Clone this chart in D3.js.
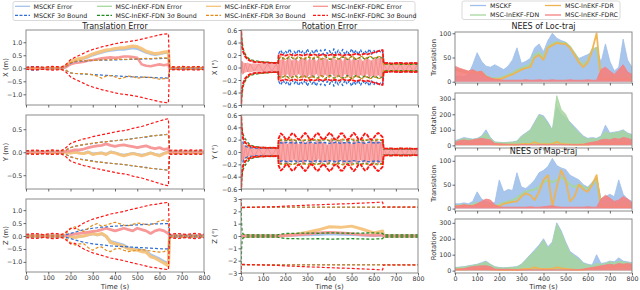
<!DOCTYPE html>
<html><head><meta charset="utf-8">
<script src="https://cdn.jsdelivr.net/npm/d3@7/dist/d3.min.js"></script>
<style>
html,body{margin:0;padding:0;background:#fff;}
svg{display:block;font-family:"DejaVu Sans",sans-serif;}
</style></head><body>
<svg id="chart" width="640" height="290"></svg>
<script>
// ================= DATA =================
const xTickVals=[0,100,200,300,400,500,600,700,800];
const methods=["MSCKF","MSC-InEKF-FDN","MSC-InEKF-FDR","MSC-InEKF-FDRC"];

// ---- Translation error (left column), time grid ----
const tL=[0,20,40,60,80,100,120,140,160,180,200,220,240,260,280,300,320,340,360,380,400,420,440,460,480,500,520,540,560,580,600,620,640,645,660,680,700,720,740,760,780,800];
// X
const trX_redB=[0.04,0.05,0.06,0.05,0.04,0.06,0.07,0.06,0.05,0.15,0.33,0.42,0.5,0.58,0.66,0.72,0.77,0.82,0.86,0.9,0.94,0.98,1.0,1.02,1.05,1.08,1.12,1.16,1.2,1.24,1.28,1.31,1.33,0.05,0.06,0.05,0.07,0.06,0.05,0.07,0.06,0.05];
const trX_blueBup=[0.03,0.06,0.07,0.05,0.03,0.03,0.03,0.03,0.03,0.08,0.2,0.25,0.27,0.28,0.29,0.3,0.3,0.31,0.31,0.32,0.32,0.33,0.33,0.34,0.34,0.35,0.35,0.36,0.36,0.37,0.37,0.38,0.38,0.03,0.03,0.03,0.03,0.03,0.03,0.03,0.03,0.03];
const trX_blueBlo=[-0.03,-0.06,-0.07,-0.05,-0.03,-0.03,-0.03,-0.03,-0.03,-0.08,-0.18,-0.2,-0.21,-0.22,-0.23,-0.24,-0.25,-0.26,-0.27,-0.28,-0.29,-0.3,-0.31,-0.32,-0.33,-0.33,-0.34,-0.35,-0.35,-0.36,-0.37,-0.37,-0.38,-0.03,-0.03,-0.03,-0.03,-0.03,-0.03,-0.03,-0.03,-0.03];
const trX_orngBup=[0.03,0.03,0.03,0.03,0.03,0.03,0.03,0.03,0.03,0.08,0.22,0.27,0.3,0.28,0.3,0.31,0.3,0.32,0.33,0.32,0.34,0.35,0.34,0.35,0.36,0.35,0.37,0.38,0.37,0.38,0.4,0.4,0.39,0.03,0.03,0.03,0.03,0.03,0.03,0.03,0.03,0.03];
const trX_orngBlo=[-0.03,-0.03,-0.03,-0.03,-0.03,-0.03,-0.03,-0.03,-0.03,-0.08,-0.18,-0.2,-0.2,-0.21,-0.22,-0.25,-0.3,-0.38,-0.3,-0.28,-0.33,-0.4,-0.36,-0.3,-0.32,-0.38,-0.35,-0.33,-0.36,-0.38,-0.42,-0.4,-0.38,-0.03,-0.03,-0.03,-0.03,-0.03,-0.03,-0.03,-0.03,-0.03];
const trX_blueE=[0,0.02,-0.02,0,0,0,0,0,0,0.05,0.2,0.3,0.35,0.37,0.43,0.5,0.55,0.6,0.65,0.68,0.7,0.72,0.72,0.75,0.78,0.75,0.68,0.6,0.55,0.52,0.55,0.58,0.6,0,0,0,0,0,0,0,0,0];
const trX_orngE=[0,0,0,0,0,0,0,0,0,0.08,0.25,0.33,0.37,0.4,0.47,0.55,0.6,0.65,0.7,0.72,0.76,0.78,0.78,0.82,0.85,0.83,0.75,0.65,0.6,0.56,0.58,0.62,0.64,0,0,0,0,0,0,0,0,0];
const trX_redE=[0,0,0,0,0,0,0,0,0,0.05,0.15,0.2,0.22,0.25,0.3,0.32,0.35,0.38,0.4,0.42,0.4,0.42,0.45,0.45,0.43,0.4,0.15,0.1,0.08,0.12,0.15,0.12,0.15,0,0,0,0,0,0,0,0,0];
// Y
const trY_redB=[0.03,0.04,0.05,0.04,0.03,0.04,0.05,0.04,0.04,0.1,0.19,0.23,0.26,0.29,0.31,0.34,0.36,0.38,0.4,0.42,0.44,0.46,0.47,0.49,0.52,0.54,0.56,0.59,0.62,0.65,0.68,0.71,0.73,0.04,0.05,0.04,0.05,0.04,0.05,0.04,0.05,0.04];
const trY_orngB=[0.03,0.03,0.03,0.03,0.03,0.03,0.03,0.03,0.03,0.05,0.1,0.13,0.15,0.17,0.18,0.2,0.21,0.22,0.23,0.24,0.25,0.26,0.27,0.28,0.29,0.31,0.32,0.34,0.35,0.36,0.37,0.38,0.39,0.03,0.03,0.03,0.03,0.03,0.03,0.03,0.03,0.03];
const trY_blueB=[0.03,0.03,0.03,0.03,0.03,0.03,0.03,0.03,0.03,0.05,0.1,0.13,0.15,0.16,0.18,0.19,0.21,0.22,0.23,0.24,0.25,0.26,0.27,0.28,0.3,0.31,0.32,0.33,0.35,0.36,0.37,0.38,0.39,0.03,0.03,0.03,0.03,0.03,0.03,0.03,0.03,0.03];
const trY_redE=[0,0,0,0,0,0,0,0,0,0.02,0.03,0.05,0.05,0.07,0.1,0.12,0.14,0.15,0.18,0.15,0.13,0.15,0.16,0.14,0.12,0.1,0.12,0.14,0.1,0.08,0.1,0.06,0.08,0,0,0,0,0,0,0,0,0];
const trY_orngE=[0,0,0,0,0,0,0,0,0,0,-0.02,0,-0.02,-0.03,0,-0.05,-0.03,-0.02,-0.05,0,-0.02,-0.05,-0.08,-0.05,-0.03,-0.05,-0.08,-0.05,-0.02,-0.05,-0.08,-0.03,0,0,0,0,0,0,0,0,0,0];
const trY_blueE=[0,0,0,0,0,0,0,0,0,0,-0.01,0.01,-0.01,-0.02,0.01,-0.03,-0.02,-0.01,-0.04,0.01,-0.01,-0.04,-0.06,-0.04,-0.02,-0.04,-0.06,-0.04,-0.01,-0.04,-0.06,-0.02,0.01,0,0,0,0,0,0,0,0,0];
// Z
const trZ_redB=[0.06,0.08,0.1,0.08,0.05,0.08,0.1,0.09,0.06,0.15,0.3,0.28,0.4,0.5,0.58,0.65,0.7,0.75,0.8,0.85,0.88,0.92,0.95,1.0,1.04,1.08,1.12,1.16,1.2,1.22,1.25,1.28,1.3,0.06,0.08,0.1,0.08,0.06,0.08,0.1,0.08,0.06];
const trZ_orngBup=[0.03,0.03,0.03,0.03,0.03,0.03,0.03,0.03,0.03,0.1,0.28,0.36,0.22,0.18,0.3,0.42,0.48,0.38,0.42,0.48,0.53,0.48,0.42,0.4,0.45,0.5,0.48,0.44,0.42,0.5,0.58,0.62,0.56,0.03,0.03,0.03,0.03,0.03,0.03,0.03,0.03,0.03];
const trZ_orngBlo=[-0.03,-0.03,-0.03,-0.03,-0.03,-0.03,-0.03,-0.03,-0.03,-0.1,-0.25,-0.35,-0.3,-0.3,-0.45,-0.55,-0.45,-0.42,-0.55,-0.6,-0.5,-0.48,-0.55,-0.6,-0.58,-0.55,-0.52,-0.55,-0.58,-0.6,-0.62,-0.6,-0.55,-0.03,-0.03,-0.03,-0.03,-0.03,-0.03,-0.03,-0.03,-0.03];
const trZ_blueBup=[0.03,0.03,0.03,0.03,0.03,0.03,0.03,0.03,0.03,0.05,0.1,0.15,0.2,0.24,0.27,0.3,0.32,0.34,0.35,0.37,0.38,0.39,0.4,0.41,0.42,0.43,0.44,0.45,0.46,0.47,0.47,0.48,0.48,0.03,0.03,0.03,0.03,0.03,0.03,0.03,0.03,0.03];
const trZ_blueBlo=[-0.03,-0.03,-0.03,-0.03,-0.03,-0.03,-0.03,-0.03,-0.03,-0.05,-0.1,-0.15,-0.2,-0.24,-0.27,-0.3,-0.32,-0.34,-0.36,-0.38,-0.39,-0.4,-0.41,-0.42,-0.43,-0.44,-0.45,-0.46,-0.47,-0.48,-0.49,-0.5,-0.5,-0.03,-0.03,-0.03,-0.03,-0.03,-0.03,-0.03,-0.03,-0.03];
const trZ_redE=[0,0,0,0,0,0,0,0,0,0.02,0.05,0.08,0.1,0.12,0.15,0.18,0.2,0.25,0.3,0.25,0.2,0.25,0.3,0.25,0.2,0.3,0.25,0.2,0.1,0.2,0.25,0.2,0.1,0,0,0,0,0,0,0,0,0];
const trZ_orngE=[0,0,0,0,0,0,0,0,0,0,-0.02,-0.05,-0.02,0,0.05,0.1,0.05,0.1,0,-0.25,-0.3,-0.35,-0.4,-0.5,-0.52,-0.55,-0.6,-0.62,-0.8,-0.85,-0.95,-1.05,-1.15,0,0,0,0,0,0,0,0,0];
const trZ_blueE=[0,0,0,0,0,0,0,0,0,0,-0.02,-0.04,-0.02,0,0.04,0.08,0.04,0.08,-0.02,-0.2,-0.25,-0.3,-0.35,-0.45,-0.48,-0.5,-0.55,-0.58,-0.72,-0.8,-0.88,-0.98,-1.05,0,0,0,0,0,0,0,0,0];

// ---- Rotation error (middle column), time grid ----
const tR=[0,2,5,10,20,30,40,60,80,100,120,140,160,168,170,180,190,200,210,220,230,240,250,260,270,280,290,300,310,320,330,340,350,360,370,380,390,400,410,420,430,440,450,460,470,480,490,500,510,520,530,540,550,560,570,580,590,600,610,620,630,640,645,660,680,700,720,740,760,780,800];
const rX_redB=[0.9,0.45,0.33,0.25,0.17,0.13,0.11,0.09,0.085,0.08,0.078,0.075,0.072,0.07,
0.2,0.21,0.2,0.19,0.2,0.21,0.2,0.19,0.2,0.21,0.2,0.19,0.2,0.21,0.2,0.2,0.21,0.2,0.19,0.2,0.21,0.2,0.19,0.2,
0.21,0.2,0.2,0.21,0.2,0.19,0.2,0.21,0.2,0.2,0.21,0.22,0.21,0.2,0.21,0.22,0.21,0.22,0.23,0.24,0.25,0.26,0.27,0.28,
0.07,0.075,0.065,0.07,0.075,0.065,0.07,0.075,0.07];
const rX_blueB=[0.9,0.45,0.33,0.25,0.17,0.13,0.11,0.09,0.085,0.08,0.078,0.075,0.072,0.07,
0.22,0.28,0.2,0.27,0.22,0.3,0.2,0.26,0.21,0.29,0.22,0.27,0.2,0.3,0.21,0.27,0.22,0.3,0.2,0.28,0.21,0.29,0.22,0.27,
0.2,0.3,0.21,0.28,0.22,0.29,0.2,0.27,0.21,0.3,0.22,0.28,0.2,0.29,0.21,0.27,0.22,0.3,0.21,0.28,0.22,0.29,0.25,0.27,
0.06,0.07,0.06,0.07,0.06,0.07,0.06,0.07,0.06];
const rX_orngB=[0.9,0.48,0.36,0.27,0.19,0.14,0.12,0.1,0.09,0.085,0.08,0.078,0.075,0.072,
0.15,0.17,0.16,0.13,0.16,0.18,0.17,0.14,0.15,0.18,0.16,0.13,0.15,0.18,0.17,0.14,0.16,0.18,0.17,0.13,0.15,0.19,0.16,0.14,
0.15,0.18,0.17,0.13,0.16,0.18,0.17,0.14,0.15,0.19,0.16,0.13,0.15,0.18,0.17,0.14,0.16,0.18,0.17,0.15,0.16,0.18,0.17,0.16,
0.05,0.06,0.05,0.06,0.05,0.06,0.05,0.06,0.05];
const rX_greenB=[0.95,0.55,0.42,0.3,0.21,0.16,0.13,0.11,0.1,0.09,0.085,0.08,0.078,0.075,
0.14,0.16,0.15,0.13,0.15,0.17,0.16,0.13,0.14,0.17,0.15,0.13,0.14,0.17,0.16,0.13,0.15,0.17,0.16,0.13,0.14,0.18,0.15,0.13,
0.14,0.17,0.16,0.13,0.15,0.17,0.16,0.13,0.14,0.18,0.15,0.13,0.14,0.17,0.16,0.13,0.15,0.17,0.16,0.14,0.15,0.17,0.16,0.15,
0.05,0.055,0.05,0.055,0.05,0.055,0.05,0.055,0.05];
const rX_redEhi=[0.1,0.12,0.1,0.08,0.07,0.08,0.06,0.07,0.06,0.07,0.06,0.07,0.06,0.07,
0.15,0.12,0.17,0.1,0.14,0.16,0.11,0.17,0.13,0.1,0.16,0.14,0.17,0.11,0.15,0.12,0.17,0.1,0.14,0.16,0.12,0.17,0.13,0.1,
0.15,0.17,0.12,0.14,0.16,0.1,0.17,0.13,0.15,0.11,0.17,0.14,0.12,0.16,0.1,0.15,0.17,0.13,0.11,0.16,0.14,0.17,0.15,0.17,
0.06,0.05,0.07,0.05,0.06,0.07,0.05,0.06,0.07];
const rX_redElo=[-0.1,-0.08,-0.12,-0.1,-0.08,-0.07,-0.08,-0.06,-0.07,-0.06,-0.07,-0.06,-0.07,-0.06,
-0.14,-0.17,-0.11,-0.16,-0.1,-0.15,-0.17,-0.12,-0.16,-0.1,-0.14,-0.17,-0.13,-0.16,-0.11,-0.17,-0.15,-0.1,-0.16,-0.13,-0.17,-0.11,-0.15,-0.17,
-0.1,-0.14,-0.16,-0.12,-0.17,-0.15,-0.1,-0.16,-0.13,-0.17,-0.11,-0.15,-0.17,-0.12,-0.14,-0.16,-0.1,-0.17,-0.13,-0.15,-0.17,-0.12,-0.16,-0.17,
-0.07,-0.06,-0.05,-0.07,-0.06,-0.08,-0.06,-0.07,-0.05];
const rY_redB=[0.9,0.45,0.32,0.22,0.15,0.12,0.1,0.08,0.075,0.07,0.068,0.07,0.065,0.062,
0.22,0.3,0.27,0.22,0.2,0.25,0.3,0.29,0.24,0.2,0.22,0.27,0.31,0.27,0.21,0.2,0.24,0.3,0.3,0.24,0.2,0.22,0.27,0.31,
0.28,0.22,0.2,0.24,0.3,0.3,0.24,0.2,0.22,0.27,0.31,0.27,0.21,0.2,0.25,0.3,0.28,0.22,0.2,0.23,0.28,0.31,0.28,0.24,
0.06,0.055,0.06,0.05,0.06,0.055,0.06,0.05,0.055];
const rY_blueB=[0.9,0.4,0.25,0.15,0.1,0.08,0.07,0.065,0.06,0.06,0.06,0.06,0.06,0.06,
0.15,0.15,0.14,0.15,0.16,0.15,0.15,0.14,0.15,0.16,0.15,0.15,0.14,0.15,0.15,0.16,0.15,0.14,0.15,0.15,0.16,0.15,0.15,0.14,
0.15,0.15,0.16,0.15,0.14,0.15,0.15,0.16,0.15,0.15,0.14,0.15,0.16,0.15,0.15,0.14,0.15,0.16,0.15,0.15,0.14,0.15,0.16,0.15,
0.05,0.05,0.045,0.05,0.05,0.045,0.05,0.05,0.045];
const rY_orngB=[0.9,0.45,0.3,0.2,0.13,0.1,0.085,0.075,0.07,0.068,0.066,0.065,0.064,0.062,
0.19,0.2,0.21,0.2,0.19,0.2,0.21,0.2,0.19,0.21,0.2,0.19,0.2,0.21,0.2,0.19,0.2,0.21,0.2,0.19,0.2,0.21,0.2,0.19,
0.2,0.21,0.2,0.19,0.2,0.21,0.2,0.19,0.2,0.21,0.2,0.19,0.2,0.21,0.2,0.19,0.2,0.21,0.2,0.19,0.2,0.21,0.2,0.2,
0.055,0.05,0.055,0.05,0.055,0.05,0.055,0.05,0.055];
const rY_greenB=[0.95,0.55,0.38,0.28,0.21,0.16,0.12,0.09,0.08,0.075,0.07,0.07,0.068,0.065,
0.18,0.19,0.2,0.19,0.18,0.19,0.2,0.19,0.18,0.2,0.19,0.18,0.19,0.2,0.19,0.18,0.19,0.2,0.19,0.18,0.19,0.2,0.19,0.18,
0.19,0.2,0.19,0.18,0.19,0.2,0.19,0.18,0.19,0.2,0.19,0.18,0.19,0.2,0.19,0.18,0.19,0.2,0.19,0.18,0.19,0.2,0.19,0.19,
0.05,0.05,0.05,0.05,0.05,0.05,0.05,0.05,0.05];
const rY_redEhi=[0.15,0.2,0.16,0.12,0.1,0.08,0.08,0.07,0.06,0.07,0.06,0.07,0.06,0.06,
0.18,0.23,0.16,0.2,0.13,0.18,0.22,0.15,0.19,0.12,0.17,0.21,0.14,0.18,0.23,0.16,0.13,0.2,0.17,0.22,0.14,0.18,0.11,0.19,
0.23,0.15,0.18,0.13,0.21,0.17,0.14,0.2,0.18,0.12,0.22,0.16,0.19,0.14,0.23,0.17,0.13,0.2,0.18,0.15,0.22,0.18,0.16,0.19,
0.06,0.07,0.05,0.06,0.07,0.05,0.06,0.07,0.06];
const rY_redElo=[-0.1,-0.15,-0.18,-0.14,-0.1,-0.08,-0.07,-0.08,-0.07,-0.06,-0.07,-0.06,-0.07,-0.06,
-0.16,-0.2,-0.13,-0.18,-0.22,-0.15,-0.18,-0.12,-0.2,-0.17,-0.14,-0.21,-0.18,-0.13,-0.19,-0.22,-0.15,-0.18,-0.11,-0.2,-0.17,-0.14,-0.22,-0.18,
-0.13,-0.19,-0.16,-0.21,-0.12,-0.18,-0.2,-0.15,-0.18,-0.22,-0.14,-0.17,-0.2,-0.13,-0.18,-0.16,-0.21,-0.14,-0.18,-0.2,-0.15,-0.19,-0.17,-0.18,
-0.07,-0.06,-0.07,-0.05,-0.06,-0.07,-0.06,-0.05,-0.06];
// Z rotation (coarser grid)
const tRZ=[0,2,5,10,20,40,80,120,165,170,200,250,300,350,400,450,500,550,600,640,645,700,800];
const rZ_redB=[3.5,2.32,2.3,2.3,2.31,2.32,2.34,2.36,2.38,2.39,2.42,2.46,2.5,2.53,2.57,2.6,2.63,2.67,2.71,2.75,2.35,2.35,2.35];
const rZ_orngB=[3.5,2.34,2.34,2.34,2.34,2.34,2.34,2.34,2.34,2.34,2.34,2.34,2.34,2.34,2.34,2.34,2.34,2.34,2.34,2.34,2.34,2.34,2.34];
const rZ_blueB=[3.5,2.33,2.33,2.33,2.33,2.33,2.33,2.33,2.33,2.33,2.33,2.33,2.33,2.33,2.33,2.33,2.33,2.33,2.33,2.33,2.33,2.33,2.33];
const rZ_greenB=[3.5,1.2,0.35,0.15,0.1,0.08,0.08,0.08,0.08,0.12,0.2,0.22,0.24,0.22,0.25,0.24,0.22,0.24,0.25,0.22,0.08,0.08,0.08];
const rZ_orngE=[0,0,0,0,0,0,0,0,0,0,0.05,0.15,0.3,0.5,0.75,0.7,0.8,0.55,0.25,0.4,0,0,0];
const rZ_redE=[0,0,0,0,0,0,0,0,0,0,0.05,0.1,0.15,0.25,0.3,0.25,0.2,0.1,0.05,0.1,0,0,0];
const rZ_blueE=[0,0.05,-0.05,0,0,0,0,0,0,0,0.02,0.05,0.08,0.1,0.15,0.12,0.1,0.05,0.02,0.05,0,0,0];

// ---- NEES (right column), time every 20 s ----
const tN=[0,20,40,60,80,100,120,140,160,180,200,220,240,260,280,300,320,340,360,380,400,420,440,460,480,500,520,540,560,580,600,620,640,660,680,700,720,740,760,780,800];
const locT_msckf=[10,12,10,15,35,60,42,32,30,35,30,25,32,45,70,38,42,48,70,78,62,85,100,90,85,82,72,60,48,52,56,62,70,40,78,42,22,30,88,45,30];
const locT_fdn=[26,24,22,20,22,19,20,12,8,7,7,10,14,18,24,28,32,35,55,60,50,72,78,82,80,80,72,58,44,34,44,66,70,12,14,12,10,10,14,10,8];
const locT_fdr=[25,22,20,18,20,17,18,10,6,5,5,8,12,15,20,25,28,30,50,55,45,70,75,80,78,78,70,55,40,30,40,65,100,5,5,5,4,4,5,4,4];
const locT_fdrc=[32,28,25,22,25,20,22,12,8,5,4,3,3,3,3,3,4,3,3,4,3,3,4,3,3,3,4,3,3,3,4,3,3,25,30,22,15,25,35,20,15];
const locR_msckf=[30,40,50,45,40,45,60,100,50,22,20,18,20,22,28,60,80,100,150,200,190,150,100,250,200,180,150,120,90,60,45,50,45,60,130,80,85,90,100,80,70];
const locR_fdn=[25,35,45,40,38,42,55,80,45,20,18,16,18,20,25,55,75,95,140,195,180,140,95,320,230,200,140,110,80,55,40,45,40,55,90,75,80,85,95,75,65];
const locR_fdr=[8,10,10,8,10,10,12,10,8,6,5,5,5,6,5,8,10,8,20,10,8,8,10,22,10,8,6,5,5,6,5,8,10,12,15,10,12,15,18,15,12];
const locR_fdrc=[20,30,35,30,35,40,45,40,35,12,10,8,6,5,5,5,5,5,4,5,5,4,5,5,5,4,5,5,5,6,15,20,25,35,40,35,45,40,50,45,35];
const mapT_msckf=[10,10,12,10,15,35,20,15,12,12,60,35,40,38,75,45,42,50,60,75,80,88,105,90,85,82,70,65,60,50,45,55,65,20,25,30,25,60,30,20,15];
const mapT_fdn=[6,6,8,6,8,12,8,7,6,6,8,12,15,18,22,30,35,38,40,45,55,60,55,60,65,60,50,45,50,45,42,50,60,8,10,10,8,10,12,8,6];
const mapT_fdr=[5,5,6,5,6,8,6,5,5,5,5,10,12,14,15,25,32,28,18,35,60,70,5,45,80,60,15,25,50,40,35,50,70,3,3,3,3,3,3,3,3];
const mapT_fdrc=[5,6,8,7,6,10,15,20,18,8,4,3,3,3,3,3,3,4,3,3,4,5,6,4,3,3,3,3,3,3,4,3,3,20,28,22,15,18,25,20,12];
const mapR_msckf=[20,22,25,30,35,40,50,60,40,25,20,18,20,22,25,40,70,100,130,160,200,150,180,300,250,180,120,100,80,50,40,35,100,45,50,60,55,80,60,55,50];
const mapR_fdn=[18,20,22,28,32,38,45,55,38,22,18,16,18,20,22,38,65,95,120,150,190,140,170,290,240,170,110,90,70,45,35,30,45,40,45,55,50,60,55,50,45];
const mapR_fdr=[8,8,8,10,10,10,12,10,8,6,5,5,5,6,5,8,10,10,20,12,10,10,12,20,15,10,8,6,5,6,10,12,15,20,15,25,20,30,25,28,25];
const mapR_fdrc=[8,10,12,20,25,28,30,30,25,10,8,8,8,6,5,5,5,5,5,5,5,5,5,5,5,5,5,5,6,10,15,20,25,30,35,40,35,45,40,45,40];

// ================= DRAWING =================
const C={bE:'#a3c2ea',bB:'#2e6fd8',gE:'#a6d89c',gB:'#1e8c1e',oE:'#f4c27a',oB:'#e38b16',rE:'#f79393',rB:'#ff1414'};
const svg=d3.select('#chart');
const FF='DejaVu Sans';
let clipN=0;
const minus=s=>String(s).replace('-','\u2212');
function chk(t,arr,name){ if(t.length!==arr.length) throw new Error('length mismatch '+name+' '+arr.length+' vs '+t.length); }

function makePanel(b,ydom,yticks,yfmt,ylabel,ylabelX,showX){
  const x=d3.scaleLinear().domain([0,800]).range([b.x0,b.x1]);
  const y=d3.scaleLinear().domain(ydom).range([b.y1,b.y0]);
  const id='cp'+(clipN++);
  svg.append('clipPath').attr('id',id).append('rect').attr('x',b.x0).attr('y',b.y0).attr('width',b.x1-b.x0).attr('height',b.y1-b.y0);
  const g=svg.append('g').attr('clip-path','url(#'+id+')');
  return {x,y,g,b,yticks,yfmt,ylabel,ylabelX,showX};
}
function finish(p){
  const b=p.b;
  svg.append('rect').attr('x',b.x0).attr('y',b.y0).attr('width',b.x1-b.x0).attr('height',b.y1-b.y0)
    .attr('fill','none').attr('stroke','#8c8c8c').attr('stroke-width',1);
  const xa=svg.append('g').attr('transform','translate(0,'+b.y1+')')
    .call(d3.axisBottom(p.x).tickValues(xTickVals).tickSize(2.5).tickPadding(1.5).tickFormat(p.showX?d3.format('d'):()=>''));
  const ya=svg.append('g').attr('transform','translate('+b.x0+',0)')
    .call(d3.axisLeft(p.y).tickValues(p.yticks).tickSize(2.5).tickPadding(1.3).tickFormat(d=>minus(p.yfmt(d))));
  [xa,ya].forEach(a=>{a.select('.domain').remove();
    a.selectAll('line').attr('stroke','#444').attr('stroke-width',0.8);
    a.selectAll('text').attr('font-size',6.3).attr('fill','#333').attr('font-family',FF);});
  svg.append('text').attr('transform','translate('+p.ylabelX+','+((b.y0+b.y1)/2)+') rotate(-90)')
    .attr('text-anchor','middle').attr('dy','0.35em').attr('font-size',6.8).attr('fill','#333').attr('font-family',FF).text(p.ylabel);
  if(p.showX) svg.append('text').attr('x',(b.x0+b.x1)/2).attr('y',288.5).attr('text-anchor','middle')
    .attr('font-size',7).attr('fill','#333').attr('font-family',FF).text('Time (s)');
}
function line(p,t,v,color,w,dash,sign,op,name){
  chk(t,v,name||'line');
  const s=sign||1;
  const gen=d3.line().x((d,i)=>p.x(t[i])).y(d=>p.y(s*d));
  p.g.append('path').datum(v).attr('d',gen).attr('fill','none').attr('stroke',color).attr('stroke-width',w)
    .attr('stroke-dasharray',dash||null).attr('opacity',op==null?1:op).attr('stroke-linejoin','round');
}
function bound(p,t,v,color,w,dash,name){ line(p,t,v,color,w,dash,1,1,name); line(p,t,v,color,w,dash,-1,1,name); }
function band(p,t,lo,hi,color,op,name){
  chk(t,lo,name+'lo'); chk(t,hi,name+'hi');
  const gen=d3.area().x((d,i)=>p.x(t[i])).y0((d,i)=>p.y(lo[i])).y1((d,i)=>p.y(hi[i]));
  p.g.append('path').datum(hi).attr('d',gen).attr('fill',color).attr('opacity',op);
  const zz=d3.line().x((d,i)=>p.x(t[i])).y((d,i)=>p.y(i%2?lo[i]:hi[i]));
  p.g.append('path').datum(hi).attr('d',zz).attr('fill','none').attr('stroke','#f27a7a').attr('stroke-width',0.7).attr('opacity',0.8);
}
function area0(p,t,v,color,op,name){
  chk(t,v,name);
  const gen=d3.area().x((d,i)=>p.x(t[i])).y0(p.y(0)).y1(d=>p.y(d));
  p.g.append('path').datum(v).attr('d',gen).attr('fill',color).attr('opacity',op);
  const ln=d3.line().x((d,i)=>p.x(t[i])).y(d=>p.y(d));
  p.g.append('path').datum(v).attr('d',ln).attr('fill','none').attr('stroke',color).attr('stroke-width',0.8);
}

const f1=d3.format('.1f'), fd=d3.format('d');
const DASH='3,2', DASHR='4,1';

// ---------- left column ----------
const LX={x0:26,x1:204};
const pTX=makePanel({...LX,y0:30,y1:105},[-1.41,1.47],[-1,-0.5,0,0.5,1],f1,'X (m)',6,false);
line(pTX,tL,trX_blueE,C.bE,2.4,null,1,0.95,'trXbE');
line(pTX,tL,trX_orngE,C.oE,3.2,null,1,0.95,'trXoE');
line(pTX,tL,trX_redE,C.rE,2.6,null,1,0.95,'trXrE');
line(pTX,tL,trX_blueBup,C.bB,1.2,DASH,1,1,'a');line(pTX,tL,trX_blueBlo,C.bB,1.2,DASH,1,1,'b');
line(pTX,tL,trX_orngBup,C.oB,1.2,DASH,1,1,'c');line(pTX,tL,trX_orngBlo,C.oB,1.2,DASH,1,1,'d');
bound(pTX,tL,trX_redB,C.rB,1.2,DASH,'trXrB');
finish(pTX);

const pTY=makePanel({...LX,y0:115,y1:189},[-0.8,0.81],[-0.5,0,0.5],f1,'Y (m)',6,false);
line(pTY,tL,trY_blueE,C.bE,2.4,null,1,0.95,'e');
line(pTY,tL,trY_orngE,C.oE,3.0,null,1,0.95,'f');
line(pTY,tL,trY_redE,C.rE,2.8,null,1,0.95,'g');
bound(pTY,tL,trY_blueB,C.bB,1.2,DASH,'h');
bound(pTY,tL,trY_orngB,C.oB,1.2,DASH,'i');
bound(pTY,tL,trY_redB,C.rB,1.2,DASH,'j');
finish(pTY);

const pTZ=makePanel({...LX,y0:199,y1:272},[-1.39,1.43],[-1,-0.5,0,0.5,1],f1,'Z (m)',6,true);
line(pTZ,tL,trZ_blueE,C.bE,2.6,null,1,0.95,'k');
line(pTZ,tL,trZ_orngE,C.oE,3.2,null,1,0.95,'l');
line(pTZ,tL,trZ_redE,C.rE,2.8,null,1,0.95,'m');
line(pTZ,tL,trZ_blueBup,C.bB,1.2,DASH,1,1,'n');line(pTZ,tL,trZ_blueBlo,C.bB,1.2,DASH,1,1,'o');
line(pTZ,tL,trZ_orngBup,C.oB,1.2,DASH,1,1,'p');line(pTZ,tL,trZ_orngBlo,C.oB,1.2,DASH,1,1,'q');
bound(pTZ,tL,trZ_redB,C.rB,1.2,DASH,'r');
finish(pTZ);

// ---------- middle column ----------
const MX={x0:241,x1:418};
const rt=[-0.6,-0.4,-0.2,0,0.2,0.4,0.6];
const pRX=makePanel({...MX,y0:30,y1:105},[-0.6,0.6],rt,f1,'X (\u00B0)',215,false);
band(pRX,tR,rX_redElo,rX_redEhi,C.rE,0.8,'rXe');
bound(pRX,tR,rX_blueB,C.bB,1.3,DASH,'rXb');
bound(pRX,tR,rX_greenB,C.gB,1.2,DASH,'rXg');
bound(pRX,tR,rX_orngB,C.oB,1.2,DASH,'rXo');
bound(pRX,tR,rX_redB,C.rB,1.8,DASHR,'rXr');
finish(pRX);

const pRY=makePanel({...MX,y0:115,y1:189},[-0.6,0.6],rt,f1,'Y (\u00B0)',215,false);
band(pRY,tR,rY_redElo,rY_redEhi,C.rE,0.8,'rYe');
bound(pRY,tR,rY_blueB,C.bB,1.3,DASH,'rYb');
bound(pRY,tR,rY_greenB,C.gB,1.2,DASH,'rYg');
bound(pRY,tR,rY_orngB,C.oB,1.2,DASH,'rYo');
bound(pRY,tR,rY_redB,C.rB,1.8,DASHR,'rYr');
finish(pRY);

const pRZ=makePanel({...MX,y0:199,y1:273},[-3,3],[-3,-2,-1,0,1,2,3],fd,'Z (\u00B0)',215,true);
line(pRZ,tRZ,rZ_blueE,C.bE,2.4,null,1,0.95,'rZbE');
line(pRZ,tRZ,rZ_orngE,C.oE,3.0,null,1,0.95,'rZoE');
line(pRZ,tRZ,rZ_redE,C.rE,2.8,null,1,0.95,'rZrE');
bound(pRZ,tRZ,rZ_blueB,C.bB,1.2,DASH,'rZbB');
bound(pRZ,tRZ,rZ_orngB,C.oB,1.2,DASH,'rZoB');
bound(pRZ,tRZ,rZ_greenB,C.gB,1.3,DASH,'rZgB');
bound(pRZ,tRZ,rZ_redB,C.rB,1.2,DASH,'rZrB');
finish(pRZ);

// ---------- right column ----------
const RX={x0:455,x1:632};
const NC={b:'#9fbfe9',g:'#a6d59e',o:'#f0b24f',r:'#f57f7f'};
function nees(p,a,bq,c,d,greenFill){
  area0(p,tN,a,NC.b,0.9,'nb');
  if(greenFill) area0(p,tN,bq,NC.g,0.85,'ng');
  else line(p,tN,bq,NC.g,2.2,null,1,0.9,'ng');
  line(p,tN,c,NC.o,1.8,null,1,0.95,'no');
  area0(p,tN,d,NC.r,0.9,'nr');
}
const pN1=makePanel({...RX,y0:32,y1:83},[-2.7,102.7],[0,50,100],fd,'Translation',434,false);
nees(pN1,locT_msckf,locT_fdn,locT_fdr,locT_fdrc,false); finish(pN1);
const pN2=makePanel({...RX,y0:93,y1:148},[-17,337],[0,100,200,300],fd,'Rotation',434,false);
nees(pN2,locR_msckf,locR_fdn,locR_fdr,locR_fdrc,true); finish(pN2);
const pN3=makePanel({...RX,y0:156,y1:211},[-5,110],[0,50,100],fd,'Translation',434,false);
nees(pN3,mapT_msckf,mapT_fdn,mapT_fdr,mapT_fdrc,false); finish(pN3);
const pN4=makePanel({...RX,y0:219,y1:273},[-15,324],[0,100,200,300],fd,'Rotation',434,true);
nees(pN4,mapR_msckf,mapR_fdn,mapR_fdr,mapR_fdrc,true); finish(pN4);

// titles
function title(x,y,s){svg.append('text').attr('x',x).attr('y',y).attr('text-anchor','middle').attr('font-size',8).attr('fill','#222').attr('font-family',FF).text(s);}
title((LX.x0+LX.x1)/2,28.5,'Translation Error');
title((MX.x0+MX.x1)/2,28.5,'Rotation Error');
title((RX.x0+RX.x1)/2,28.8,'NEES of Loc-traj');
title((RX.x0+RX.x1)/2,154.3,'NEES of Map-traj');

// legends
const errCol=[C.bE,C.gE,C.oE,C.rE], bndCol=[C.bB,C.gB,C.oB,C.rB];
const lg=svg.append('g');
lg.append('rect').attr('x',13).attr('y',1.5).attr('width',402).attr('height',19).attr('rx',2).attr('fill','#fff').attr('stroke','#d0d0d0').attr('stroke-width',0.8);
const lcx=[15,97,206,313];
methods.forEach((m,i)=>{
  lg.append('line').attr('x1',lcx[i]).attr('x2',lcx[i]+15).attr('y1',6.3).attr('y2',6.3).attr('stroke',errCol[i]).attr('stroke-width',1.3);
  lg.append('line').attr('x1',lcx[i]).attr('x2',lcx[i]+15).attr('y1',15.3).attr('y2',15.3).attr('stroke',bndCol[i]).attr('stroke-width',1.3).attr('stroke-dasharray','3,1.5');
  lg.append('text').attr('x',lcx[i]+18.5).attr('y',6.3).attr('dy','0.35em').attr('font-size',6.3).attr('fill','#222').attr('font-family',FF).text(m+' Error');
  lg.append('text').attr('x',lcx[i]+18.5).attr('y',15.3).attr('dy','0.35em').attr('font-size',6.3).attr('fill','#222').attr('font-family',FF).text(m+' 3\u03C3 Bound');
});
const rg=svg.append('g');
rg.append('rect').attr('x',462).attr('y',1).attr('width',158).attr('height',18.5).attr('rx',2).attr('fill','#fff').attr('stroke','#d0d0d0').attr('stroke-width',0.8);
const rcol=[NC.b,NC.g,NC.o,NC.r];
const rpos=[[470,5.5],[470,15],[545,5.5],[545,15]];
methods.forEach((m,i)=>{
  const [x,y]=rpos[i];
  rg.append('line').attr('x1',x).attr('x2',x+16).attr('y1',y).attr('y2',y).attr('stroke',rcol[i]).attr('stroke-width',1.3);
  rg.append('text').attr('x',x+20).attr('y',y).attr('dy','0.35em').attr('font-size',6.3).attr('fill','#222').attr('font-family',FF).text(m);
});
</script></body></html>
